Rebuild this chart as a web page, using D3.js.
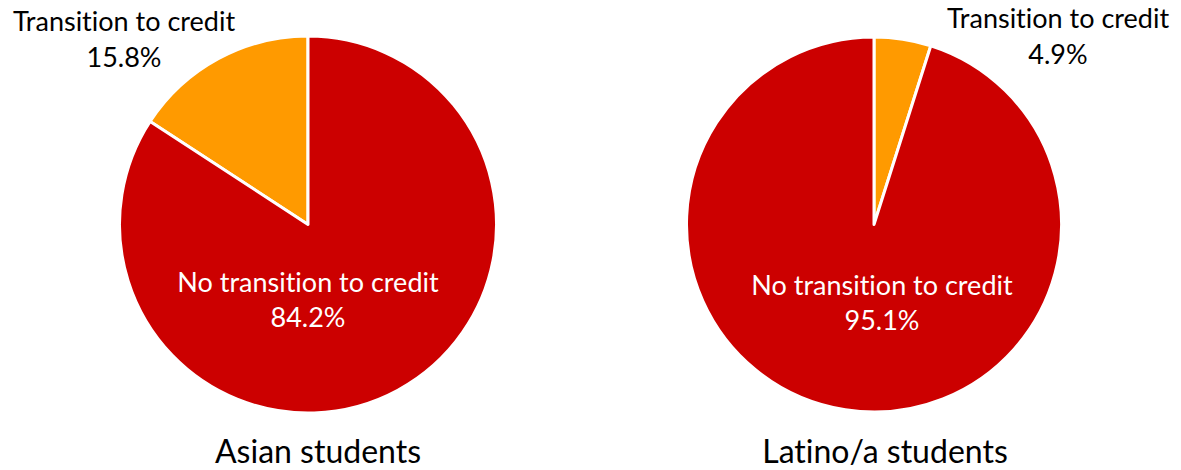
<!DOCTYPE html>
<html>
<head>
<meta charset="utf-8">
<script src="https://cdn.jsdelivr.net/npm/d3@7"></script>
<style>
  html, body { margin: 0; padding: 0; background: #fff; }
  svg text { font-family: "Lato", "Open Sans", sans-serif; font-variant-ligatures: none; font-feature-settings: "liga" 0, "clig" 0; }
</style>
</head>
<body>
<svg id="chart" width="1181" height="470"></svg>
<script>
// Share of students who transition to credit-bearing courses
const categories = ["Transition to credit", "No transition to credit"];
const groups = ["Asian students", "Latino/a students"];
const asianValues = [15.8, 84.2];
const latinoValues = [4.9, 95.1];
const sliceColors = ["#FF9A00", "#CC0000"];

const svg = d3.select("#chart");
const color = d3.scaleOrdinal().domain(categories).range(sliceColors);

const panels = [
  { name: groups[0], values: asianValues, cx: 308, cy: 224.5, r: 188.5,
    firstAngle: -asianValues[0] / 100 * 2 * Math.PI,
    outLabel: { x: 124, y: 31 }, inLabel: { x: 308, y: 292 }, title: { x: 318, y: 463 } },
  { name: groups[1], values: latinoValues, cx: 874, cy: 224.5, r: 187.5,
    firstAngle: 0,
    outLabel: { x: 1058, y: 28 }, inLabel: { x: 882, y: 295 }, title: { x: 885, y: 463 } }
];

panels.forEach(p => {
  const data = categories.map((c, i) => ({ category: c, value: p.values[i] }));
  const pie = d3.pie().sort(null).value(d => d.value)
    .startAngle(p.firstAngle).endAngle(p.firstAngle + 2 * Math.PI);
  const arc = d3.arc().innerRadius(0).outerRadius(p.r);

  const g = svg.append("g").attr("transform", `translate(${p.cx},${p.cy})`);
  g.selectAll("path")
    .data(pie(data))
    .join("path")
    .attr("d", arc)
    .attr("fill", d => color(d.data.category))
    .attr("stroke", "#fff")
    .attr("stroke-width", 3)
    .attr("stroke-linejoin", "round");

  // Outside label for the small slice
  const out = svg.append("text")
    .attr("text-anchor", "middle")
    .attr("font-size", 27)
    .attr("fill", "#000");
  out.append("tspan").attr("x", p.outLabel.x).attr("y", p.outLabel.y).text(categories[0]);
  out.append("tspan").attr("x", p.outLabel.x).attr("y", p.outLabel.y + 36).text(p.values[0].toFixed(1) + "%");

  // Inside label for the large slice
  const inn = svg.append("text")
    .attr("text-anchor", "middle")
    .attr("font-size", 27)
    .attr("fill", "#fff");
  inn.append("tspan").attr("x", p.inLabel.x).attr("y", p.inLabel.y).text(categories[1]);
  inn.append("tspan").attr("x", p.inLabel.x).attr("y", p.inLabel.y + 35).text(p.values[1].toFixed(1) + "%");

  // Group title under each pie
  svg.append("text")
    .attr("x", p.title.x).attr("y", p.title.y)
    .attr("text-anchor", "middle")
    .attr("font-size", 32)
    .attr("fill", "#000")
    .text(p.name);
});
</script>
</body>
</html>
